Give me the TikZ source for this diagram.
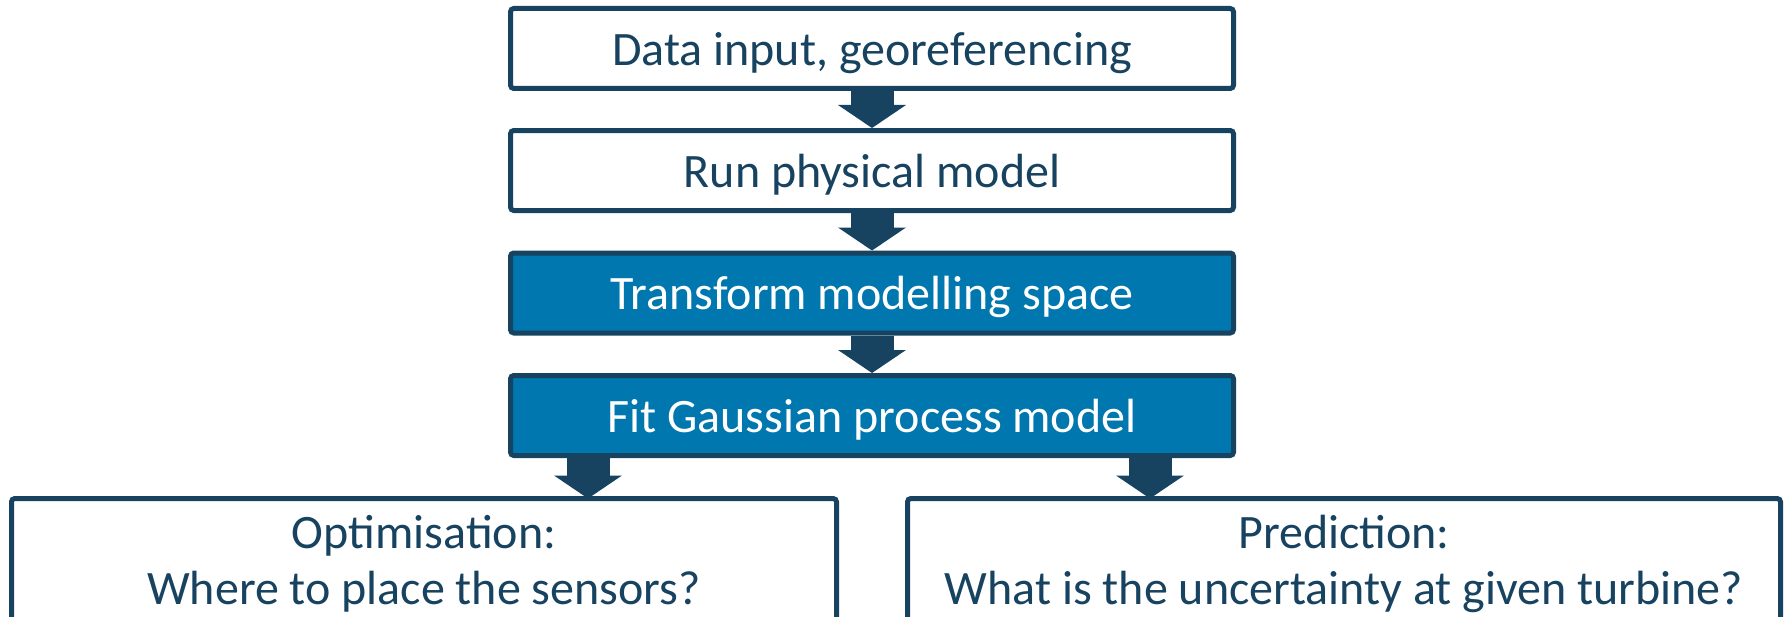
\documentclass[tikz,border=0pt]{standalone}
\usepackage{fontspec}
\setmainfont{Carlito}
\usetikzlibrary{arrows.meta}

\definecolor{navy}{RGB}{23,67,96}
\definecolor{ocean}{RGB}{0,119,174}

\tikzset{every picture/.style={line width=0.75pt}}
\tikzset{
	stepbox/.style={draw=navy, line width=3.75pt, rounded corners=2.5pt, fill=white, text=navy, inner sep=0pt, minimum width=542.25pt, minimum height=60pt, align=center, text depth=0pt, font=\fontsize{36}{42}\selectfont},
	bluebox/.style={stepbox, fill=ocean, text=white},
	flowarrow/.style={draw=navy, line width=32.25pt, -{Triangle[length=17.25pt,width=51pt,line width=0pt]}}
}

\begin{document}
\begin{tikzpicture}[x=0.75pt,y=0.75pt,yscale=-1,xscale=1]
	\useasboundingbox (0,0) rectangle (1789,617);
	\clip (0,0) rectangle (1789,617);

	% Text Node
	\node (data) at (872,48.5) [stepbox] {Data input, georeferencing};
	% Text Node
	\node (run) at (872,170.5) [stepbox] {Run physical model};
	% Text Node
	\node (trans) at (872,293) [bluebox] {Transform modelling space};
	% Text Node
	\node (gp) at (872,415.5) [bluebox] {Fit Gaussian process model};
	% Text Node
	\node (opt) at (424,563.5) [stepbox, text depth=, minimum width=618.75pt, minimum height=97.5pt] {Optimisation:\\Where to place the sensors?};
	% Text Node
	\node (pred) at (1344,563.5) [stepbox, text depth=, minimum width=654.75pt, minimum height=97.5pt] {Prediction:\\What is the uncertainty at given turbine?};

	%Arrow tips of the two branches
	\coordinate (opttip) at (588,498.5);
	\coordinate (predtip) at (1150,498.5);

	%Block Arrows
	\draw [flowarrow] (data.south) -- (run.north);
	\draw [flowarrow] (run.south) -- (trans.north);
	\draw [flowarrow] (trans.south) -- (gp.north);
	\draw [flowarrow] (opttip |- gp.south) -- (opttip);
	\draw [flowarrow] (predtip |- gp.south) -- (predtip);

\end{tikzpicture}
\end{document}
